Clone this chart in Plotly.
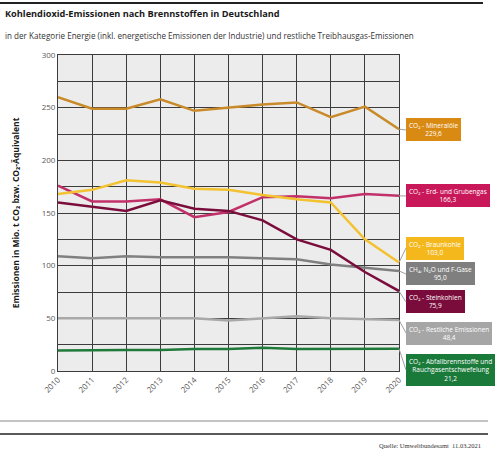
import plotly.graph_objects as go

years = list(range(2010, 2021))

mineraloele = [260, 249, 249, 258, 247, 250, 253, 255, 241, 251, 229.6]
erdgas = [176, 161, 161, 163, 146, 151, 165, 166, 164, 168, 166.3]
braunkohle = [168, 172, 181, 179, 173, 172, 167, 163, 160, 125, 103.0]
ch4_n2o_fgase = [109, 107, 109, 108, 108, 108, 107, 106, 101, 98, 95.0]
steinkohlen = [160, 156, 152, 162, 154, 152, 143, 125, 115, 94, 75.9]
restliche = [50, 50, 50, 50, 50, 48, 50, 52, 50, 49, 48.4]
abfall = [19.5, 20, 20, 20, 21, 21, 22, 21, 21, 21, 21.2]

series_names = [
    "CO₂ - Mineralöle",
    "CO₂ - Erd- und Grubengas",
    "CO₂ - Braunkohle",
    "CH₄, N₂O und F-Gase",
    "CO₂ - Steinkohlen",
    "CO₂ - Restliche Emissionen",
    "CO₂ - Abfallbrennstoffe und<br>Rauchgasentschwefelung",
]
series_values = [mineraloele, erdgas, braunkohle, ch4_n2o_fgase, steinkohlen, restliche, abfall]
line_colors = ["#c98a2a", "#c2306a", "#f3c230", "#808080", "#7a0d3c", "#a8a8a8", "#1f7a3a"]
box_colors = ["#d98a12", "#c8185a", "#f5b81c", "#7f7f7f", "#7a0c3c", "#a6a6a6", "#1a7a3a"]
label_center_px = [130, 196, 248, 274, 302, 333, 370]

L, R, T, B = 58, 99, 55, 79
W, H = 498, 450
plot_h = H - T - B
y_min, y_max = 0, 300

fig = go.Figure()
for name, vals, col in zip(series_names, series_values, line_colors):
    fig.add_trace(go.Scatter(x=years, y=vals, mode="lines", name=name,
                             line=dict(color=col, width=2.5), showlegend=False))

def val_to_px(v):
    return T + (y_max - v) / (y_max - y_min) * plot_h

def px_x(x):
    return (x - L) / (W - L - R)

def px_y(y):
    return 1 - (y - T) / (H - T - B)

for name, vals, bcol, cy in zip(series_names, series_values, box_colors, label_center_px):
    last = vals[-1]
    txt = f"{name}<br>{('%.1f' % last).replace('.', ',')}"
    fig.add_annotation(
        x=years[-1], y=last, xref="x", yref="y",
        text=txt, showarrow=True, arrowhead=0, arrowwidth=1, arrowcolor="#a0a0a0",
        ax=7, ay=cy - val_to_px(last), axref="pixel", ayref="pixel",
        xanchor="left", yanchor="middle",
        bgcolor=bcol, bordercolor=bcol, borderpad=2,
        font=dict(family="Open Sans, Liberation Sans", size=6.5, color="white"),
        align="center",
    )

fig.add_annotation(x=px_x(3), y=px_y(14), xref="paper", yref="paper",
                   text="<b>Kohlendioxid-Emissionen nach Brennstoffen in Deutschland</b>",
                   showarrow=False, xanchor="left", yanchor="middle",
                   font=dict(family="Open Sans, Liberation Sans", size=9.2, color="#1a1a1a"))
fig.add_annotation(x=px_x(3), y=px_y(35), xref="paper", yref="paper",
                   text="in der Kategorie Energie (inkl. energetische Emissionen der Industrie) und restliche Treibhausgas-Emissionen",
                   showarrow=False, xanchor="left", yanchor="middle",
                   font=dict(family="Open Sans, Liberation Sans", size=8.1, color="#333333"))
fig.add_annotation(x=px_x(483), y=px_y(445), xref="paper", yref="paper",
                   text="Quelle: Umweltbundesamt  11.03.2021",
                   showarrow=False, xanchor="right", yanchor="middle",
                   font=dict(family="Liberation Serif", size=6.5, color="#333333"))

fig.add_shape(type="line", xref="paper", yref="paper", x0=px_x(0), x1=px_x(483), y0=px_y(3), y1=px_y(3),
              line=dict(color="#222222", width=2))
fig.add_shape(type="line", xref="paper", yref="paper", x0=px_x(0), x1=px_x(488), y0=px_y(421), y1=px_y(421),
              line=dict(color="#888888", width=1))
fig.add_shape(type="line", xref="paper", yref="paper", x0=px_x(0), x1=px_x(488), y0=px_y(434), y1=px_y(434),
              line=dict(color="#222222", width=1.5))

fig.update_layout(
    width=W, height=H,
    margin=dict(l=L, r=R, t=T, b=B),
    paper_bgcolor="white",
    plot_bgcolor="#ececec",
    font=dict(family="Open Sans, Liberation Sans", size=8, color="#595959"),
)

fig.update_xaxes(
    range=[2010, 2020], tickvals=years, ticktext=[str(y) for y in years],
    tickangle=-45, showgrid=True, gridcolor="#3c3c3c", gridwidth=1,
    showline=True, linecolor="#3c3c3c", mirror=True, zeroline=False,
    tickfont=dict(size=8, color="#595959"),
)
fig.update_yaxes(
    range=[y_min, y_max], tickvals=list(range(0, 301, 50)),
    showgrid=True, gridcolor="#3c3c3c", gridwidth=1,
    minor=dict(dtick=25, showgrid=True, gridcolor="#3c3c3c", gridwidth=1),
    showline=True, linecolor="#3c3c3c", mirror=True, zeroline=False,
    tickfont=dict(size=8, color="#595959"),
    title=dict(text="<b>Emissionen in Mio. t CO₂ bzw. CO₂-Äquivalent</b>", standoff=20,
               font=dict(size=8.5, color="#1a1a1a")),
)

fig.write_html("out.html", config={"displayModeBar": False},
               post_script="document.body.style.margin='0px';")
